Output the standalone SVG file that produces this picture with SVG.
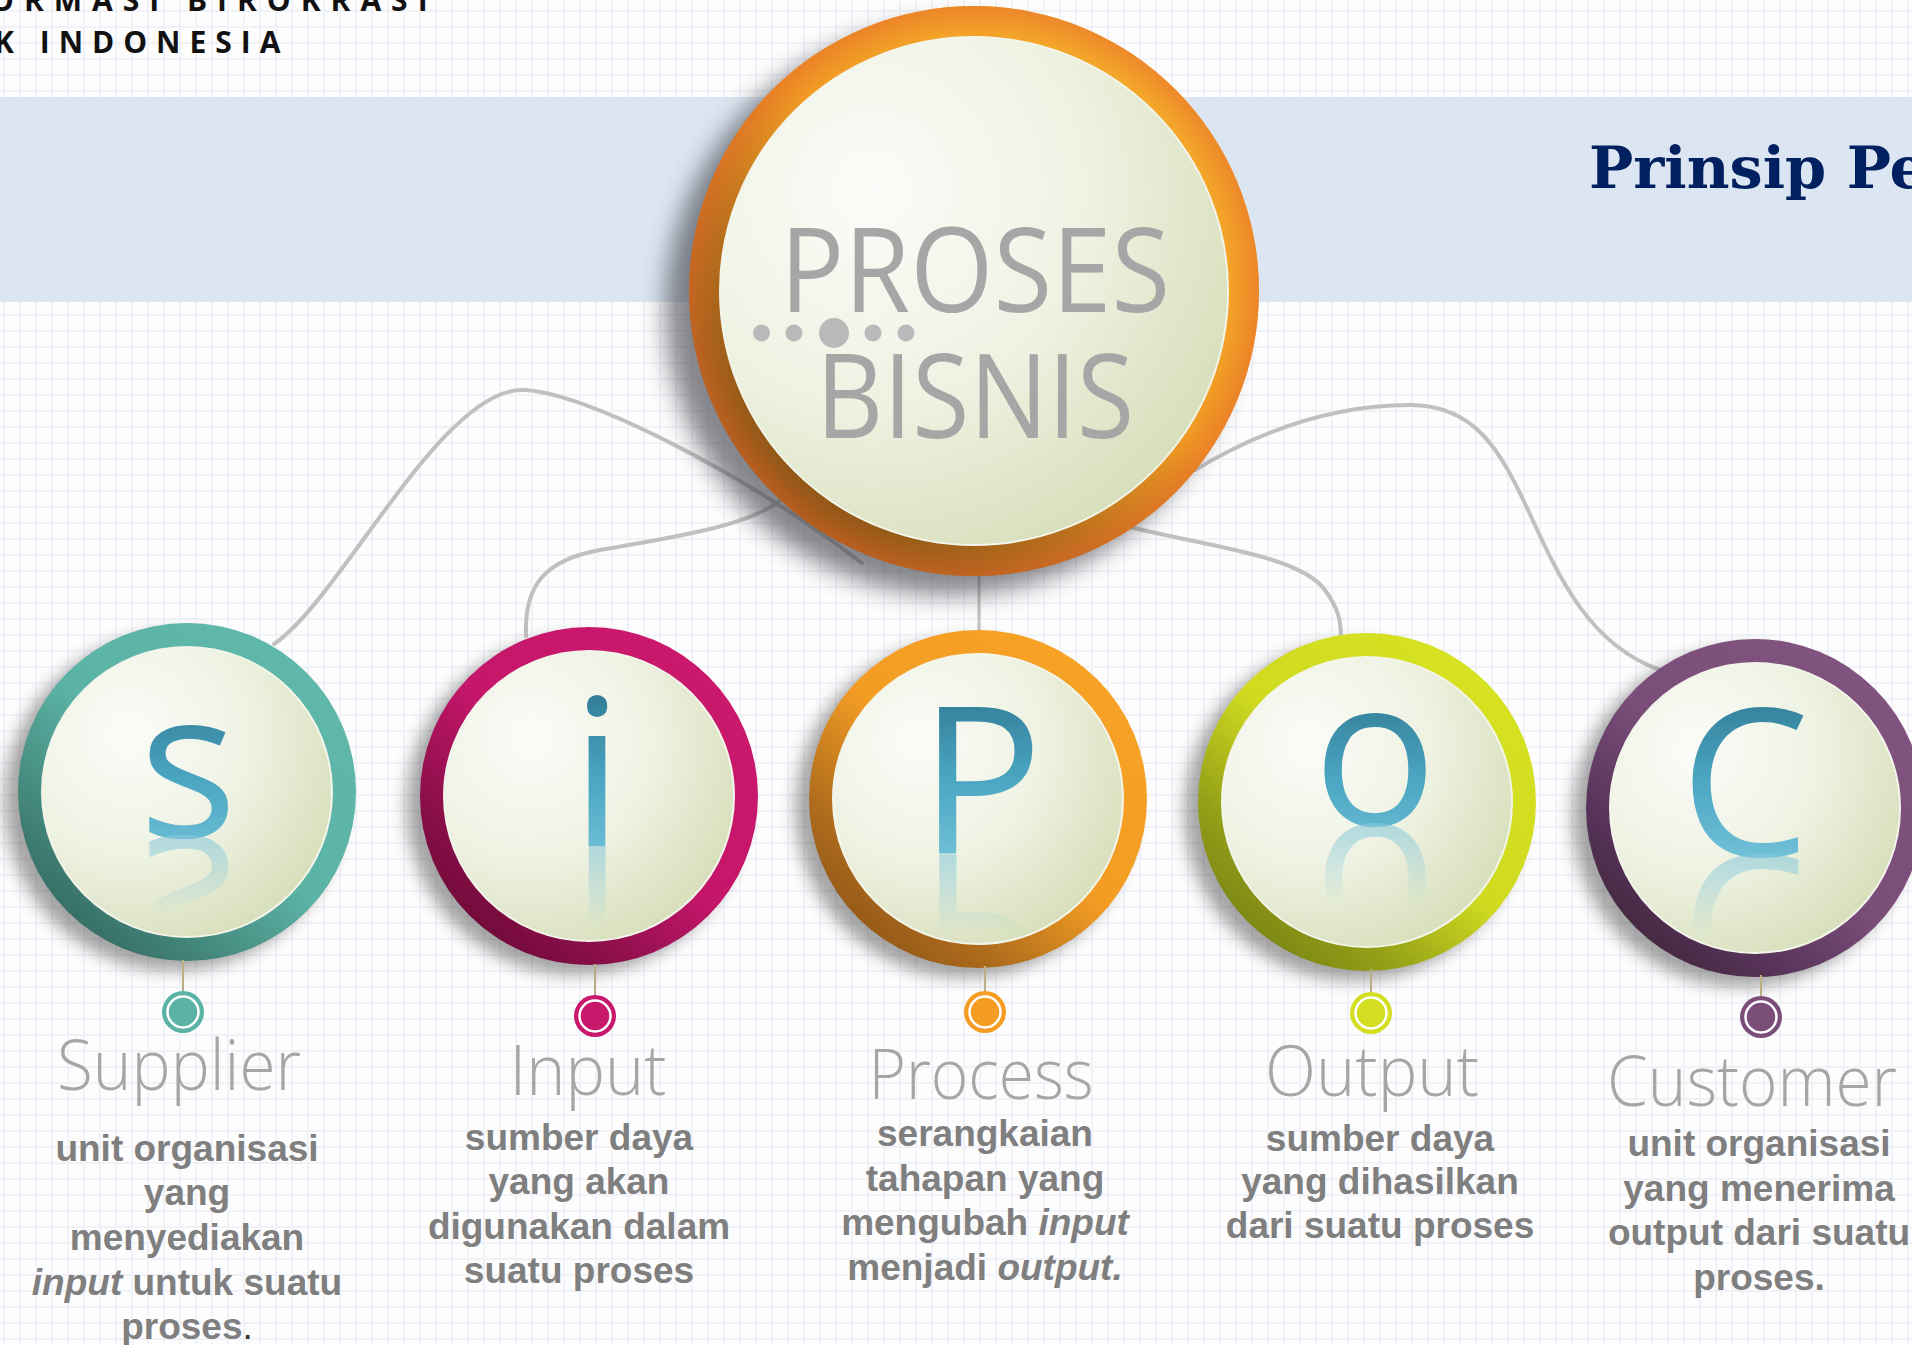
<svg xmlns="http://www.w3.org/2000/svg" xmlns:xlink="http://www.w3.org/1999/xlink" width="1912" height="1345" viewBox="0 0 1912 1345">
<style>
.conn{fill:none;stroke:#c0c0c0;stroke-width:4;stroke-linecap:round}
.face{stroke:#f3f5ea;stroke-width:2}
.ltr{font-family:'Open Sans','Segoe UI',sans-serif;font-size:206px;font-weight:400;text-anchor:middle}
.lbl{font-family:'Open Sans','Segoe UI',sans-serif;font-size:70px;font-weight:300;fill:#a6a6a6;text-anchor:middle}
.desc{font-family:'Liberation Sans',Arial,sans-serif;font-size:37px;font-weight:700;fill:#7f7f7f;text-anchor:middle}
.pinline{stroke:#b9ae84;stroke-width:2}
.pinring{fill:none;stroke:#ffffff;stroke-width:2.5}
.dot{fill:#b9b9b9}
</style>
<defs>
<pattern id="grid" width="16" height="16" x="3" y="10" patternUnits="userSpaceOnUse">
<rect width="16" height="16" fill="#fdfdfe"/>
<path d="M0 1 H16 M1 0 V16" stroke="#f1f1f8" stroke-width="2"/>
</pattern>
<filter id="shBig" x="-30%" y="-30%" width="160%" height="160%"><feGaussianBlur stdDeviation="12"/></filter>
<filter id="shSm" x="-30%" y="-30%" width="160%" height="160%"><feGaussianBlur stdDeviation="8"/></filter>
<radialGradient id="faceG" cx="0.3" cy="0.3" r="0.85">
<stop offset="0" stop-color="#fbfcf9"/><stop offset="0.5" stop-color="#eef2e2"/><stop offset="1" stop-color="#d3dbb3"/>
</radialGradient>
<radialGradient id="rimBig" cx="0.5" cy="0.5" r="0.5">
<stop offset="0.9" stop-color="#e5682a" stop-opacity="0"/><stop offset="1" stop-color="#e5682a" stop-opacity="0.5"/>
</radialGradient>
<linearGradient id="gBig" x1="0.85" y1="0.1" x2="0.15" y2="0.9"><stop offset="0" stop-color="#f5aa2b"/><stop offset="0.45" stop-color="#f09a24"/><stop offset="0.7" stop-color="#b8701c"/><stop offset="1" stop-color="#855016"/></linearGradient>
<linearGradient id="gS" x1="0.85" y1="0.1" x2="0.15" y2="0.9"><stop offset="0" stop-color="#5fb8aa"/><stop offset="0.5" stop-color="#5bb3a5"/><stop offset="0.8" stop-color="#44887c"/><stop offset="1" stop-color="#356b62"/></linearGradient>
<linearGradient id="gI" x1="0.85" y1="0.1" x2="0.15" y2="0.9"><stop offset="0" stop-color="#cb186d"/><stop offset="0.5" stop-color="#c4166a"/><stop offset="0.8" stop-color="#8c0f4a"/><stop offset="1" stop-color="#700a39"/></linearGradient>
<linearGradient id="gP" x1="0.85" y1="0.1" x2="0.15" y2="0.9"><stop offset="0" stop-color="#f7a326"/><stop offset="0.5" stop-color="#f29c23"/><stop offset="0.8" stop-color="#b06d1c"/><stop offset="1" stop-color="#935818"/></linearGradient>
<linearGradient id="gO" x1="0.85" y1="0.1" x2="0.15" y2="0.9"><stop offset="0" stop-color="#d7e222"/><stop offset="0.5" stop-color="#cfda20"/><stop offset="0.8" stop-color="#949f18"/><stop offset="1" stop-color="#7a8514"/></linearGradient>
<linearGradient id="gC" x1="0.85" y1="0.1" x2="0.15" y2="0.9"><stop offset="0" stop-color="#81537f"/><stop offset="0.5" stop-color="#7b4e7a"/><stop offset="0.8" stop-color="#58345a"/><stop offset="1" stop-color="#43273e"/></linearGradient>
<linearGradient id="ltrG" gradientUnits="userSpaceOnUse" x1="0" y1="700" x2="0" y2="860"><stop offset="0" stop-color="#34809a"/><stop offset="0.5" stop-color="#4ba6c2"/><stop offset="1" stop-color="#72c1d8"/></linearGradient>
<linearGradient id="refl" x1="0" y1="0.785" x2="0" y2="0.5"><stop offset="0" stop-color="#86c7d9" stop-opacity="0.6"/><stop offset="1" stop-color="#86c7d9" stop-opacity="0"/></linearGradient>
</defs>

<rect width="1912" height="1345" fill="url(#grid)"/>
<rect x="0" y="97" width="1912" height="205" fill="#dce6f2"/>

<g id="header">
<text x="-10" y="11" font-family="'Open Sans',sans-serif" font-size="30" font-weight="700" letter-spacing="10" fill="#111">ORMASI BIROKRASI</text>
<text x="-6" y="53" font-family="'Open Sans',sans-serif" font-size="30" font-weight="700" letter-spacing="9" fill="#111">K INDONESIA</text>
<text x="1589" y="188" font-family="'DejaVu Serif',serif" font-size="58" font-weight="700" fill="#002060" textLength="338" lengthAdjust="spacingAndGlyphs">Prinsip Pe</text>
</g>

<g id="connectors">
<path class="conn" d="M274,644 C340,600 440,390 522,390 C580,390 740,470 862,563"/>
<path class="conn" d="M526,636 C524,585 545,560 600,550 C680,536 760,525 790,492"/>
<path class="conn" d="M979,570 V632" style="stroke-width:3"/>
<path class="conn" d="M1130,527 C1200,545 1300,555 1325,590 C1338,608 1341,620 1341,638"/>
<path class="conn" d="M1195,470 C1270,425 1340,405 1410,405 C1475,405 1500,450 1528,510 C1560,580 1590,645 1660,670"/>
</g>

<g id="node-proses-bisnis">
<circle cx="950" cy="310" r="285" fill="#3c3f47" opacity="0.62" filter="url(#shBig)"/>
<circle cx="974" cy="291" r="285" fill="url(#gBig)"/>
<circle cx="974" cy="291" r="285" fill="url(#rimBig)"/>
<circle class="face" cx="974" cy="291" r="254" fill="url(#faceG)"/>
<text x="975" y="312" font-family="'Open Sans','Segoe UI',sans-serif" font-size="118" fill="#a6a6a6" text-anchor="middle" textLength="390" lengthAdjust="spacingAndGlyphs">PROSES</text>
<text x="975" y="438" font-family="'Open Sans','Segoe UI',sans-serif" font-size="118" fill="#a6a6a6" text-anchor="middle" textLength="318" lengthAdjust="spacingAndGlyphs">BISNIS</text>
<circle class="dot" cx="761.5" cy="333" r="8.5"/>
<circle class="dot" cx="794" cy="333" r="8.5"/>
<circle class="dot" cx="834" cy="333" r="15" fill="#bdbdbd"/>
<circle class="dot" cx="873" cy="333" r="8.5"/>
<circle class="dot" cx="906" cy="333" r="8.5"/>
</g>

<g id="node-supplier">
<circle cx="173" cy="802" r="169" fill="#3a3a3a" opacity="0.45" filter="url(#shSm)"/>
<circle cx="187" cy="792" r="169" fill="url(#gS)"/>
<circle class="face" cx="187" cy="792" r="145" fill="url(#faceG)"/>
<g fill="url(#ltrG)"><text id="ltr-s" class="ltr" x="188" y="837">s</text></g>
<use href="#ltr-s" xlink:href="#ltr-s" fill="url(#refl)" transform="translate(0,1674) scale(1,-1)"/>
<line class="pinline" x1="183" y1="960" x2="183" y2="992"/>
<circle cx="183" cy="1012" r="21" fill="#5bb3a5"/>
<circle class="pinring" cx="183" cy="1012" r="15.5"/>
<text class="lbl" x="179" y="1090" textLength="244" lengthAdjust="spacingAndGlyphs">Supplier</text>
<text class="desc"><tspan x="187" y="1161">unit organisasi</tspan><tspan x="187" y="1205">yang</tspan><tspan x="187" y="1250">menyediakan</tspan><tspan x="187" y="1295"><tspan font-style="italic">input</tspan> untuk suatu</tspan><tspan x="187" y="1339">proses<tspan font-weight="400" fill="#333">.</tspan></tspan></text>
</g>

<g id="node-input">
<circle cx="575" cy="806" r="169" fill="#3a3a3a" opacity="0.45" filter="url(#shSm)"/>
<circle cx="589" cy="796" r="169" fill="url(#gI)"/>
<circle class="face" cx="589" cy="796" r="145" fill="url(#faceG)"/>
<g fill="url(#ltrG)"><text id="ltr-i" class="ltr" x="597" y="846">i</text></g>
<use href="#ltr-i" xlink:href="#ltr-i" fill="url(#refl)" transform="translate(0,1692) scale(1,-1)"/>
<line class="pinline" x1="595" y1="964" x2="595" y2="996"/>
<circle cx="595" cy="1016" r="21" fill="#c8186b"/>
<circle class="pinring" cx="595" cy="1016" r="15.5"/>
<text class="lbl" x="588" y="1095" textLength="157" lengthAdjust="spacingAndGlyphs">Input</text>
<text class="desc"><tspan x="579" y="1150">sumber daya</tspan><tspan x="579" y="1194">yang akan</tspan><tspan x="579" y="1239">digunakan dalam</tspan><tspan x="579" y="1283">suatu proses</tspan></text>
</g>

<g id="node-process">
<circle cx="964" cy="809" r="169" fill="#3a3a3a" opacity="0.45" filter="url(#shSm)"/>
<circle cx="978" cy="799" r="169" fill="url(#gP)"/>
<circle class="face" cx="978" cy="799" r="145" fill="url(#faceG)"/>
<g fill="url(#ltrG)"><text id="ltr-p" class="ltr" x="981" y="854">P</text></g>
<use href="#ltr-p" xlink:href="#ltr-p" fill="url(#refl)" transform="translate(0,1708) scale(1,-1)"/>
<line class="pinline" x1="985" y1="966" x2="985" y2="992"/>
<circle cx="985" cy="1012" r="21" fill="#f49d22"/>
<circle class="pinring" cx="985" cy="1012" r="15.5"/>
<text class="lbl" x="981" y="1099" textLength="225" lengthAdjust="spacingAndGlyphs">Process</text>
<text class="desc"><tspan x="985" y="1146">serangkaian</tspan><tspan x="985" y="1191">tahapan yang</tspan><tspan x="985" y="1235">mengubah <tspan font-style="italic">input</tspan></tspan><tspan x="985" y="1280">menjadi <tspan font-style="italic">output.</tspan></tspan></text>
</g>

<g id="node-output">
<circle cx="1353" cy="812" r="169" fill="#3a3a3a" opacity="0.45" filter="url(#shSm)"/>
<circle cx="1367" cy="802" r="169" fill="url(#gO)"/>
<circle class="face" cx="1367" cy="802" r="145" fill="url(#faceG)"/>
<g fill="url(#ltrG)"><text id="ltr-o" class="ltr" x="1375" y="825">o</text></g>
<use href="#ltr-o" xlink:href="#ltr-o" fill="url(#refl)" transform="translate(0,1650) scale(1,-1)"/>
<line class="pinline" x1="1371" y1="969" x2="1371" y2="993"/>
<circle cx="1371" cy="1013" r="21" fill="#d3de20"/>
<circle class="pinring" cx="1371" cy="1013" r="15.5"/>
<text class="lbl" x="1372" y="1096" textLength="214" lengthAdjust="spacingAndGlyphs">Output</text>
<text class="desc"><tspan x="1380" y="1151">sumber daya</tspan><tspan x="1380" y="1194">yang dihasilkan</tspan><tspan x="1380" y="1238">dari suatu proses</tspan></text>
</g>

<g id="node-customer">
<circle cx="1741" cy="818" r="169" fill="#3a3a3a" opacity="0.45" filter="url(#shSm)"/>
<circle cx="1755" cy="808" r="169" fill="url(#gC)"/>
<circle class="face" cx="1755" cy="808" r="145" fill="url(#faceG)"/>
<g fill="url(#ltrG)"><text id="ltr-c" class="ltr" x="1745" y="856">C</text></g>
<use href="#ltr-c" xlink:href="#ltr-c" fill="url(#refl)" transform="translate(0,1712) scale(1,-1)"/>
<line class="pinline" x1="1761" y1="975" x2="1761" y2="997"/>
<circle cx="1761" cy="1017" r="21" fill="#7b4e7a"/>
<circle class="pinring" cx="1761" cy="1017" r="15.5"/>
<text class="lbl" x="1752" y="1106" textLength="290" lengthAdjust="spacingAndGlyphs">Customer</text>
<text class="desc"><tspan x="1759" y="1156">unit organisasi</tspan><tspan x="1759" y="1201">yang menerima</tspan><tspan x="1759" y="1245">output dari suatu</tspan><tspan x="1759" y="1290">proses.</tspan></text>
</g>
</svg>
